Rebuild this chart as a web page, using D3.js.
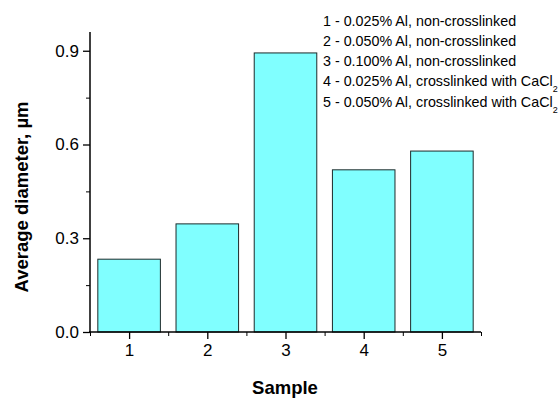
<!DOCTYPE html>
<meta charset="utf-8">
<style>
body { margin: 0; background: #fff; }
text { font-family: Arial, "Liberation Sans", sans-serif; }
</style>
<svg width="560" height="399"></svg>
<script src="https://cdn.jsdelivr.net/npm/d3@7/dist/d3.min.js"></script>
<script>

// samples and their average diameters (µm)
var samples = [1, 2, 3, 4, 5];
var diameters = [0.233, 0.346, 0.893, 0.519, 0.579];
var yTicks = [0.0, 0.3, 0.6, 0.9];
var yMinor = [0.15, 0.45, 0.75];
var xMinor = [0.5, 1.5, 2.5, 3.5, 4.5, 5.5];
var legendLines = [
  ["1 - 0.025% Al, non-crosslinked", ""],
  ["2 - 0.050% Al, non-crosslinked", ""],
  ["3 - 0.100% Al, non-crosslinked", ""],
  ["4 - 0.025% Al, crosslinked with CaCl", "2"],
  ["5 - 0.050% Al, crosslinked with CaCl", "2"]
];

var svg = d3.select("svg"),
    margin = {left: 90, right: 79, top: 32, bottom: 67},
    width = 560 - margin.left - margin.right,
    height = 399 - margin.top - margin.bottom,
    g = svg.append("g").attr("transform", "translate(" + margin.left + "," + margin.top + ")");

var x = d3.scaleLinear().domain([0.5, 5.5]).range([0, width]);
var y = d3.scaleLinear().domain([0, 0.96]).range([height, 0]);
var barW = x(1.4) - x(0.6);

g.selectAll(".bar")
  .data(diameters)
  .enter().append("rect")
    .attr("class", "bar")
    .attr("x", function(d, i) { return x(samples[i]) - barW / 2; })
    .attr("y", function(d) { return y(d); })
    .attr("width", barW)
    .attr("height", function(d) { return y(0) - y(d); })
    .attr("fill", "#80ffff")
    .attr("stroke", "#1c2b2b")
    .attr("stroke-width", 1);

// y axis
var yAxis = g.append("g")
    .call(d3.axisLeft(y).tickValues(yTicks).tickFormat(d3.format(".1f")).tickSize(7).tickPadding(4));
yAxis.append("g").selectAll("line")
  .data(yMinor).enter().append("line")
    .attr("x1", -4).attr("x2", 0)
    .attr("y1", function(d) { return y(d) + 0.5; })
    .attr("y2", function(d) { return y(d) + 0.5; })
    .attr("stroke", "#000");

// x axis
var xAxis = g.append("g")
    .attr("transform", "translate(0," + height + ")")
    .call(d3.axisBottom(x).tickValues(samples).tickFormat(d3.format("d")).tickSize(7).tickPadding(5));
xAxis.append("g").selectAll("line")
  .data(xMinor).enter().append("line")
    .attr("x1", function(d) { return x(d) + 0.5; })
    .attr("x2", function(d) { return x(d) + 0.5; })
    .attr("y1", 0).attr("y2", 4)
    .attr("stroke", "#000");

yAxis.select(".domain").remove();
xAxis.select(".domain").remove();
g.append("line").attr("x1", 0).attr("x2", 0).attr("y1", 0).attr("y2", height)
  .attr("stroke", "#000").attr("stroke-width", 1.5);
g.append("line").attr("x1", -1).attr("x2", width).attr("y1", height).attr("y2", height)
  .attr("stroke", "#000").attr("stroke-width", 1.5);
svg.selectAll(".tick line").attr("stroke-width", 1.3);
svg.selectAll(".tick text").style("font-size", "17px").attr("fill", "#000");

// axis titles
svg.append("text")
    .attr("transform", "translate(28,197) rotate(-90)")
    .attr("text-anchor", "middle")
    .style("font-size", "18.5px").style("font-weight", "bold")
    .text("Average diameter, \u00b5m");

svg.append("text")
    .attr("x", 285).attr("y", 394)
    .attr("text-anchor", "middle")
    .style("font-size", "18.5px").style("font-weight", "bold")
    .text("Sample");

// legend text
var leg = svg.append("g").attr("transform", "translate(323,0)");
leg.selectAll("text")
  .data(legendLines).enter().append("text")
    .attr("x", 0)
    .attr("y", function(d, i) { return 26 + i * 20 + (i == 4 ? 1 : 0); })
    .style("font-size", "14.3px")
    .each(function(d) {
      var t = d3.select(this);
      t.append("tspan").text(d[0]);
      if (d[1]) t.append("tspan").attr("dy", 6).style("font-size", "9px").text(d[1]);
    });

</script>
